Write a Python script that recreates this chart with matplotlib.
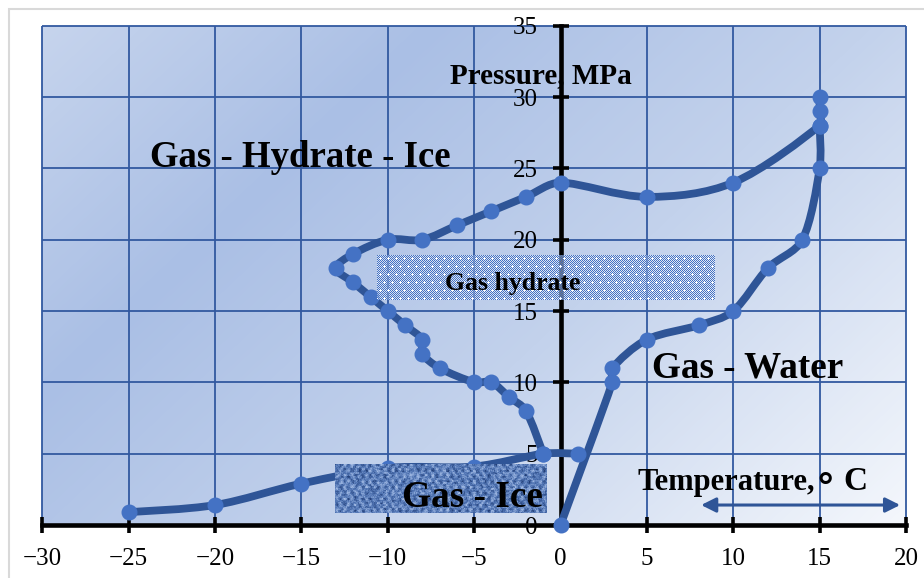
import numpy as np
import matplotlib
matplotlib.use("Agg")
import matplotlib.pyplot as plt
from matplotlib.path import Path
from matplotlib.patches import PathPatch, Rectangle
from matplotlib.colors import LinearSegmentedColormap, to_rgb

# ---------------- data ----------------
lower_T = [-25, -20, -15, -10, -5, -1, 1]
lower_P = [0.9, 1.4, 2.9, 4.0, 4.1, 5.0, 5.0]

hydrate_T = [-1, -2, -3, -4, -5, -7, -8, -8, -9, -10, -11, -12, -13, -12, -10, -8, -6, -4, -2, 0, 5, 10, 15, 15, 15]
hydrate_P = [5, 8, 9, 10, 10, 11, 12, 13, 14, 15, 16, 17, 18, 19, 20, 20, 21, 22, 23, 24, 23, 24, 28, 29, 30]

water_T = [0, 3, 3, 5, 8, 10, 12, 14, 15, 15]
water_P = [0, 10, 11, 13, 14, 15, 18, 20, 25, 28]

x_ticks = list(range(-30, 21, 5))
y_ticks = list(range(0, 36, 5))

LINE = "#2F5597"
MARK = "#4472C4"
GRID = "#3259A0"
SERIF = ["Liberation Serif", "DejaVu Serif"]

plt.rcParams["font.family"] = SERIF

fig = plt.figure(figsize=(9.24, 5.78), dpi=100)
W, H = 924, 578
x0p, x1p, y0p, y1p = 42.3, 906.0, 525.0, 25.7
ax = fig.add_axes([x0p / W, (H - y0p) / H, (x1p - x0p) / W, (y0p - y1p) / H])
ax.set_xlim(-30, 20)
ax.set_ylim(0, 35)
YS = ((y0p - y1p) / 35) / ((x1p - x0p) / 50)   # y-unit to x-unit pixel ratio

# outer chart border
fig.patches.append(Rectangle((8.5 / W, -0.2), 1.5, (H - 8.5) / H + 0.2, transform=fig.transFigure,
                             fill=False, ec="#D9D9D9", lw=1.5))

# gradient background
gh, gw = 120, 200
u = np.linspace(0, 1, gw)[None, :]
v = np.linspace(0, 1, gh)[:, None]
t = 0.62 * u + 0.38 * v
cmap = LinearSegmentedColormap.from_list("bg", [(0.0, "#C6D4ED"), (0.28, "#AABFE5"),
                                               (0.6, "#C3D2EC"), (1.0, "#F4F7FC")])
ax.imshow(t, extent=[-30, 20, 0, 35], origin="upper", aspect="auto", cmap=cmap,
          vmin=0, vmax=1, zorder=0, interpolation="bilinear")

# grid
ax.vlines(x_ticks, 0, 35, colors=GRID, lw=1.3, zorder=1, clip_on=False)
ax.hlines(y_ticks, -30, 20, colors=GRID, lw=1.3, zorder=1, clip_on=False)

# axes through origin
for s in ["top", "right"]:
    ax.spines[s].set_visible(False)
ax.spines["left"].set_position(("data", 0))
ax.spines["bottom"].set_position(("data", 0))
for s in ["left", "bottom"]:
    ax.spines[s].set_linewidth(3.3)
    ax.spines[s].set_color("black")
    ax.spines[s].set_zorder(2.5)
ax.set_xticks(x_ticks)
ax.set_yticks(y_ticks)
ax.tick_params(direction="inout", length=11, width=2.6, color="black",
               labelsize=18, pad=11)


def smooth_path(xs, ys):
    pts = np.column_stack([xs, np.asarray(ys, float) * YS]).astype(float)
    n = len(pts)
    verts = [pts[0]]
    codes = [Path.MOVETO]
    for i in range(n - 1):
        p0 = pts[i - 1] if i > 0 else pts[i]
        p1 = pts[i]
        p2 = pts[i + 1]
        p3 = pts[i + 2] if i + 2 < n else pts[i + 1]
        seg = np.linalg.norm(p2 - p1)
        d1 = (p2 - p0) / 6.0
        d2 = (p3 - p1) / 6.0
        lim = 0.34 * seg
        n1, n2 = np.linalg.norm(d1), np.linalg.norm(d2)
        if n1 > lim and n1 > 0:
            d1 = d1 * lim / n1
        if n2 > lim and n2 > 0:
            d2 = d2 * lim / n2
        verts += [p1 + d1, p2 - d2, p2]
        codes += [Path.CURVE4] * 3
    verts = np.array(verts)
    verts[:, 1] /= YS
    return Path(verts, codes)


for xs, ys in [(lower_T, lower_P), (hydrate_T, hydrate_P), (water_T, water_P)]:
    ax.add_patch(PathPatch(smooth_path(xs, ys), fill=False, ec=LINE, lw=5.6,
                           capstyle="round", joinstyle="round", zorder=3))
    ax.plot(xs, ys, ls="none", marker="o", ms=10.5, mfc=MARK, mec=MARK, zorder=3.5,
            clip_on=False)

inv = ax.transData.inverted()

# Gas hydrate dotted box (pixel-aligned)
(bx0, by0), (bx1, by1) = inv.transform([(377, H - 300), (715, H - 255)])
bw, bh = 338, 45
ii, jj = np.mgrid[0:bh, 0:bw]
tex = np.zeros((bh, bw, 4))
bg = (ii + jj) % 2 == 1
tex[bg] = [1, 1, 1, 0.45]
tex[~bg] = list(to_rgb("#4472C4")) + [1.0]
pi = ii % 8
pj = (jj + 4 * ((ii // 8) % 2)) % 8
plus = ((pi == 3) & (pj >= 2) & (pj <= 4)) | ((pj == 3) & (pi >= 2) & (pi <= 4))
tex[plus] = [1, 1, 1, 1]
ax.imshow(tex, extent=[bx0, bx1, by0, by1], origin="upper", aspect="auto",
          zorder=4, interpolation="nearest")

# Gas - Ice textured box
(gx0, gy0), (gx1, gy1) = inv.transform([(335, H - 513), (547, H - 464)])
tw, th = 212, 49
ti, tj = np.mgrid[0:th, 0:tw].astype(float)
h1 = np.sin(ti * 12.9898 + tj * 78.233) * 43758.5453
h1 = h1 - np.floor(h1)
h2 = np.sin((ti // 2) * 39.346 + (tj // 3) * 11.135) * 24634.6345
h2 = h2 - np.floor(h2)
val = 0.4 + 0.18 * np.sin(tj * 0.85) * np.cos(ti * 0.55) + 0.22 * (h1 - 0.5) + 0.3 * (h2 - 0.5)
val = np.clip(val, 0, 1)
dcm = LinearSegmentedColormap.from_list("denim", ["#223E76", "#4F73B2", "#93AEDC", "#C6D6EF"])
ax.imshow(val, extent=[gx0, gx1, gy0, gy1], origin="upper", aspect="auto", cmap=dcm,
          vmin=0, vmax=1, zorder=4, interpolation="bilinear")

# texts
ax.text(-1.12, 30.97, "Pressure, MPa", fontsize=21, fontweight="bold", ha="center",
        va="baseline", zorder=5)
ax.text(-15.08, 25.09, "Gas - Hydrate - Ice", fontsize=26.5, fontweight="bold", ha="center",
        va="baseline", zorder=5)
ax.text(-2.76, 16.47, "Gas hydrate", fontsize=18.5, fontweight="bold", ha="center",
        va="baseline", zorder=5)
ax.text(-5.11, 1.26, "Gas - Ice", fontsize=26.8, fontweight="bold", ha="center",
        va="baseline", zorder=5)
ax.text(10.85, 10.37, "Gas - Water", fontsize=26.7, fontweight="bold", ha="center",
        va="baseline", zorder=5)
ax.text(4.48, 2.45, "Temperature,", fontsize=22, fontweight="bold", ha="left",
        va="baseline", zorder=5)
ax.text(15.32, 2.45, "∘", fontsize=27, fontweight="bold", ha="center",
        va="baseline", zorder=5, family=["DejaVu Sans"])
ax.text(16.36, 2.45, "C", fontsize=24, fontweight="bold", ha="left",
        va="baseline", zorder=5)

ax.annotate("", xy=(19.66, 1.4), xytext=(8.14, 1.4),
            arrowprops=dict(arrowstyle="<|-|>", color=LINE, lw=2.2, mutation_scale=22,
                            shrinkA=0, shrinkB=0), zorder=5)

fig.savefig("out.png", dpi=100)
